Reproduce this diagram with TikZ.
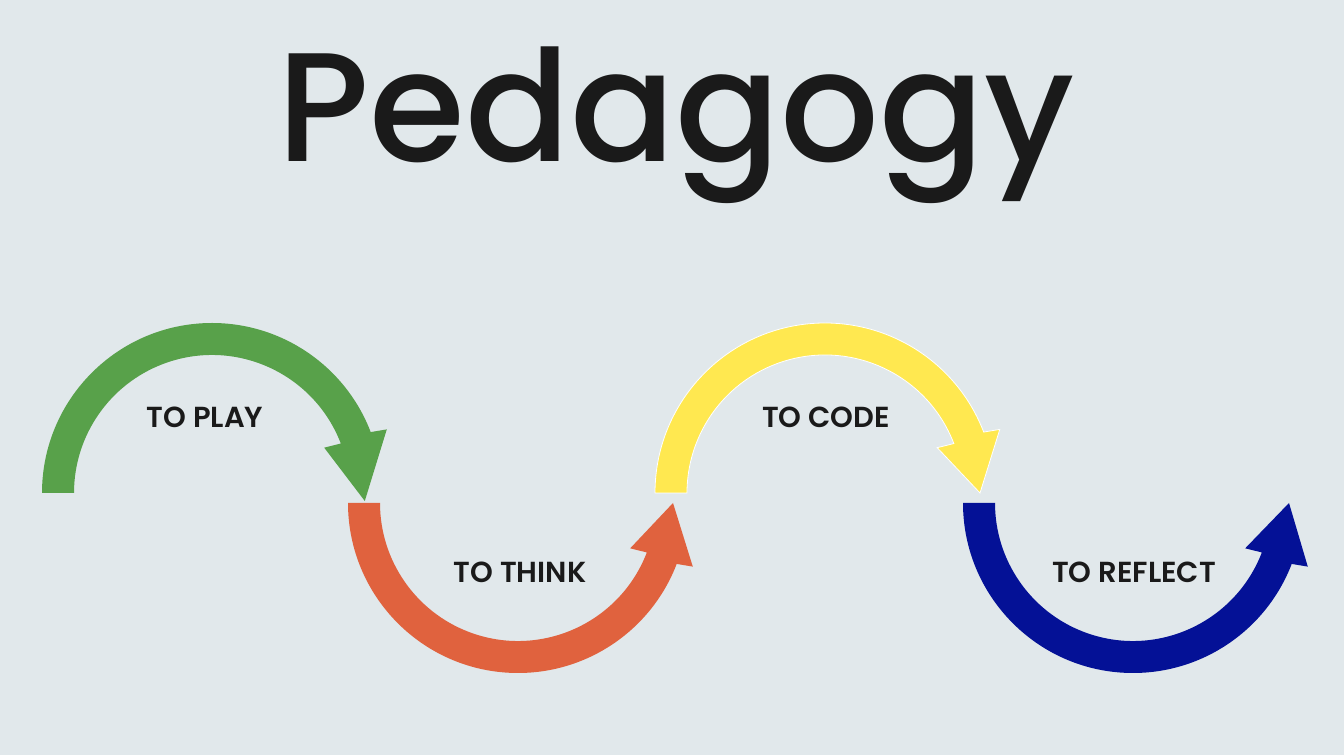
\documentclass[tikz,border=0pt]{standalone}
\usepackage{fontspec}
\setmainfont{Poppins}
\newfontfamily\titlefont{Poppins Medium}
\newfontfamily\labelfont{Poppins SemiBold}
\usetikzlibrary{calc}

\definecolor{bgcol}{RGB}{225,232,235}
\definecolor{playgreen}{RGB}{88,161,74}
\definecolor{thinkorange}{RGB}{224,98,62}
\definecolor{codeyellow}{RGB}{255,232,80}
\definecolor{reflectblue}{RGB}{4,17,150}
\definecolor{inkcol}{RGB}{26,26,26}

\begin{document}
\begin{tikzpicture}[x=1pt,y=1pt]
\tikzset{label/.style = {anchor=base,text=inkcol,font=\labelfont\fontsize{29}{29}\selectfont}}

\fill[bgcol] (0,0) rectangle (1344,755);
\useasboundingbox (0,0) rectangle (1344,755);

\node[anchor=base,text=inkcol,font=\titlefont\fontsize{155}{155}\selectfont] (title) at (676,593) {Pedagogy};

% centres of the four arcs
\coordinate (P) at (212,262);
\coordinate (T) at (518,252);
\coordinate (C) at (825,262);
\coordinate (R) at (1133,252);

% upper arcs
\fill[playgreen] ($(P)+(180:170)$) arc[start angle=180,end angle=21,radius=170]
  -- ($(P)+(20:186)$) -- ($(P)+(-3:153)$) -- ($(P)+(22:121)$)
  -- ($(P)+(21:138)$) arc[start angle=21,end angle=180,radius=138] -- cycle;
\fill[codeyellow,draw=white,line width=0.8pt] ($(C)+(180:170)$) arc[start angle=180,end angle=21,radius=170]
  -- ($(C)+(20:186)$) -- ($(C)+(0:155)$) -- ($(C)+(22:121)$)
  -- ($(C)+(21:138)$) arc[start angle=21,end angle=180,radius=138] -- cycle;

% lower arcs
\fill[thinkorange] ($(T)+(180:170)$) arc[start angle=180,end angle=339,radius=170]
  -- ($(T)+(340:186)$) -- ($(T)+(360:155)$) -- ($(T)+(338:121)$)
  -- ($(T)+(339:138)$) arc[start angle=339,end angle=180,radius=138] -- cycle;
\fill[reflectblue] ($(R)+(180:170)$) arc[start angle=180,end angle=339,radius=170]
  -- ($(R)+(340:186)$) -- ($(R)+(360:156)$) -- ($(R)+(338:121)$)
  -- ($(R)+(339:138)$) arc[start angle=339,end angle=180,radius=138] -- cycle;

\node[label] (play) at (205,327) {TO PLAY};
\node[label] (think) at (520,172) {TO THINK};
\node[label] (code) at (826,327) {TO CODE};
\node[label] (reflect) at (1134,172) {TO REFLECT};

\end{tikzpicture}
\end{document}
